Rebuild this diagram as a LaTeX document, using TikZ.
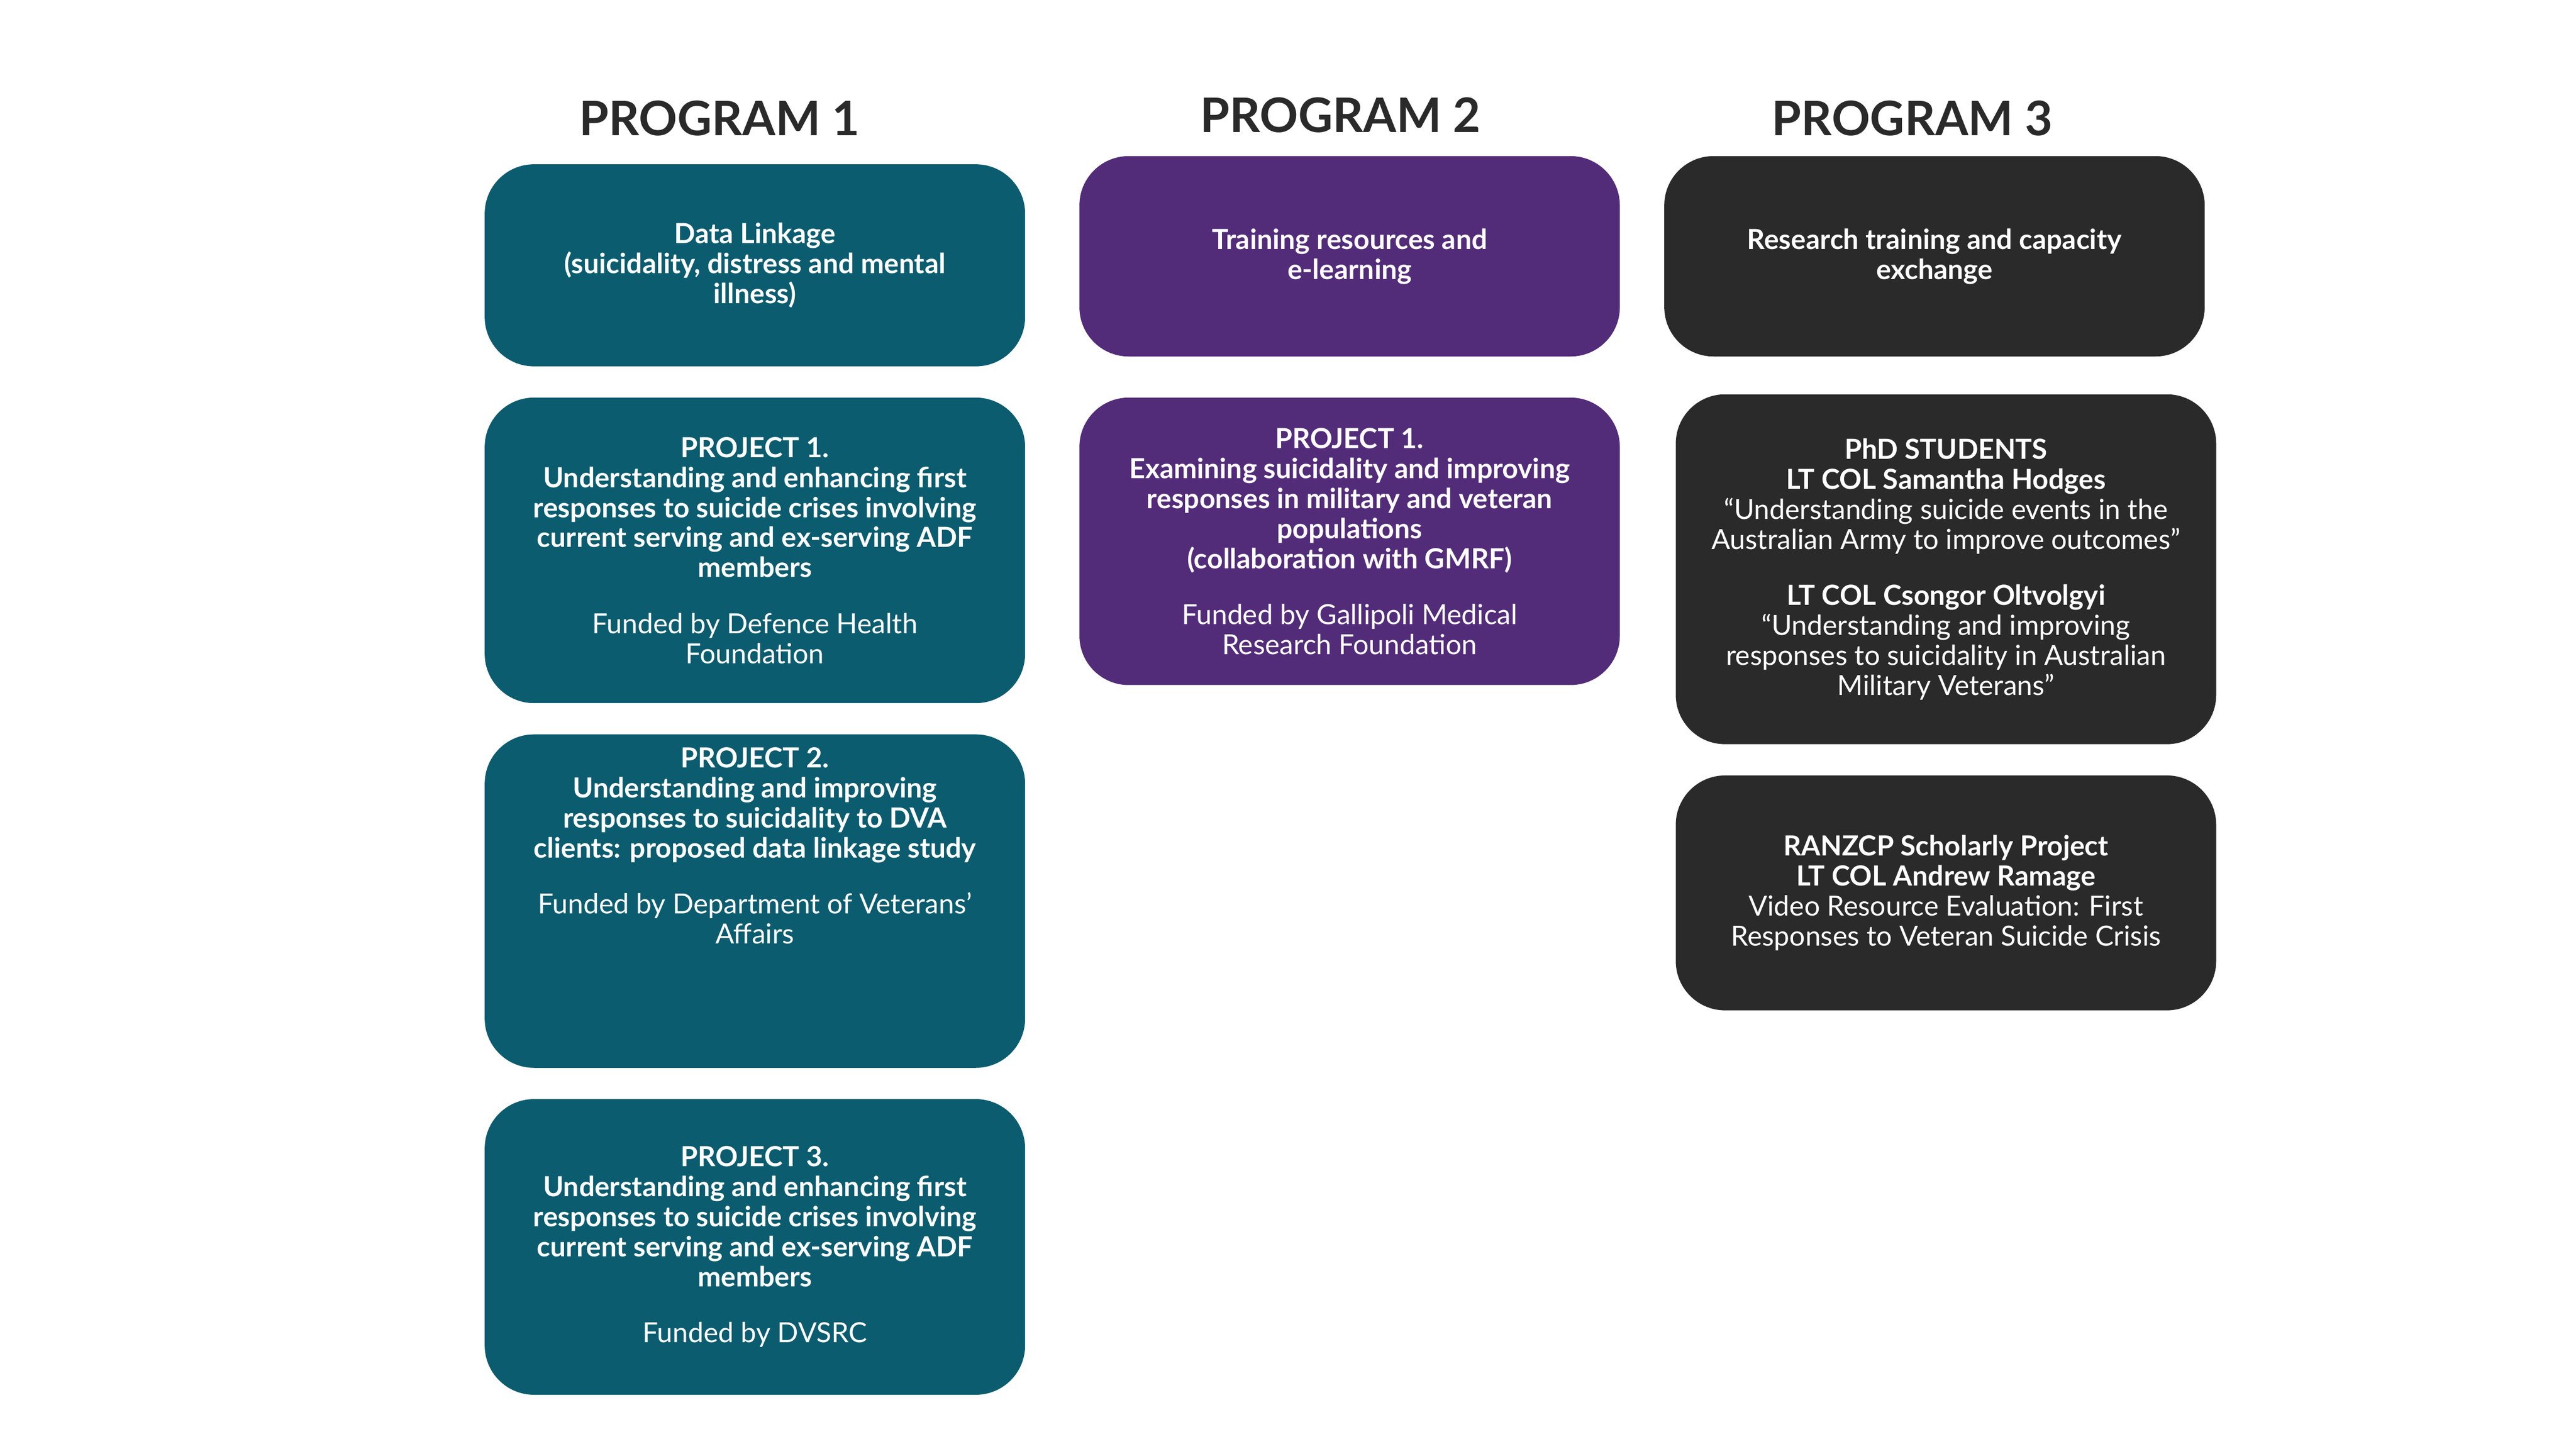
\documentclass[tikz,border=0pt]{standalone}
\usepackage{fontspec}
\setmainfont{Lato}
\usetikzlibrary{positioning}
\definecolor{progteal}{HTML}{0B5C6F}
\definecolor{progpurple}{HTML}{522C79}
\definecolor{progdark}{HTML}{2A2A2A}
\begin{document}
\begin{tikzpicture}[
    x=0.02cm, y=-0.02cm,
    box/.style={rounded corners=0.6cm, text=white, align=center,
        minimum width=6.58cm, inner sep=1pt,
        font=\fontsize{9.6}{10.4}\selectfont\bfseries},
    teal box/.style={box, fill=progteal},
    purple box/.style={box, fill=progpurple},
    dark box/.style={box, fill=progdark},
    title/.style={font=\fontsize{16.5}{18}\selectfont\bfseries, text=progdark}
]
    \fill[white] (0,0) rectangle (1568,882);

    % Program titles
    \node[title] (t1) at (438,72) {PROGRAM 1};
    \node[title] (t2) at (816,70) {PROGRAM 2};
    \node[title] (t3) at (1164,72) {PROGRAM 3};

    % Program 1
    \node[teal box, minimum height=2.46cm] (dl) at (459.5,161.5)
        {Data Linkage\\(suicidality, distress and mental\\illness)};
    \node[teal box, minimum height=3.72cm] (p1a) at (459.5,335)
        {PROJECT 1.\\Understanding and enhancing first\\responses to suicide crises involving\\current serving and ex-serving ADF\\members\\[9pt]
        \mdseries Funded by Defence Health\\\mdseries Foundation};
    \node[teal box, minimum height=4.06cm] (p1b) at (459.5,548.5)
        {PROJECT 2.\\Understanding and improving\\responses to suicidality to DVA\\clients: proposed data linkage study\\[9pt]
        \mdseries Funded by Department of Veterans'\\\mdseries Affairs\\[28pt]};
    \node[teal box, minimum height=3.6cm] (p1c) at (459.5,759)
        {PROJECT 3.\\Understanding and enhancing first\\responses to suicide crises involving\\current serving and ex-serving ADF\\members\\[9pt]
        \mdseries Funded by DVSRC};

    % Program 2
    \node[purple box, minimum height=2.44cm] (tr) at (821.5,156)
        {Training resources and\\e-learning};
    \node[purple box, minimum height=3.5cm] (p2a) at (821.5,329.5)
        {PROJECT 1.\\Examining suicidality and improving\\responses in military and veteran\\populations\\(collaboration with GMRF)\\[9pt]
        \mdseries Funded by Gallipoli Medical\\\mdseries Research Foundation};

    % Program 3
    \node[dark box, minimum height=2.44cm] (rt) at (1177.5,156)
        {Research training and capacity\\exchange};
    \node[dark box, minimum height=4.26cm] (phd) at (1184.5,346.5)
        {PhD STUDENTS\\LT COL Samantha Hodges\\\mdseries ``Understanding suicide events in the\\\mdseries Australian Army to improve outcomes''\\[9pt]
        LT COL Csongor Oltvolgyi\\\mdseries ``Understanding and improving\\\mdseries responses to suicidality in Australian\\\mdseries Military Veterans''};
    \node[dark box, minimum height=2.86cm] (ranz) at (1184.5,543.5)
        {RANZCP Scholarly Project\\LT COL Andrew Ramage\\\mdseries Video Resource Evaluation: First\\\mdseries Responses to Veteran Suicide Crisis};
\end{tikzpicture}
\end{document}
